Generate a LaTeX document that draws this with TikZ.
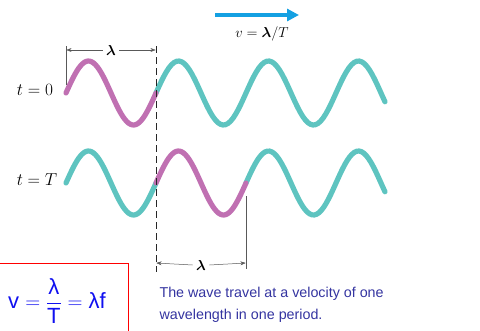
\documentclass[tikz,border=0pt]{standalone}
\usepackage{amsmath}
\usepackage{fontspec}
\usetikzlibrary{arrows.meta}
\newfontfamily\arialfont{Liberation Sans}
\definecolor{WaveTeal}{RGB}{94, 196, 192}
\definecolor{WavePink}{RGB}{192, 112, 178}
\definecolor{SpeedBlue}{RGB}{20, 160, 226}
\definecolor{NoteBlue}{RGB}{52, 52, 160}
\definecolor{EqBlue}{RGB}{16, 16, 240}

\begin{document}
\begin{tikzpicture}[x=1pt, y=-1pt, >=Stealth,
    wave/.style={line width=5.2pt, line cap=round, WaveTeal},
    hump/.style={wave, WavePink},
    dimline/.style={gray!70!black, line width=0.5pt, ->, shorten >=0.3pt},
    tick/.style={gray!70!black, line width=0.6pt},
    lbl/.style={font=\fontsize{17}{20}\selectfont}]
  \useasboundingbox (0,0) rectangle (480,330);

  % the two snapshots of the wave
  \draw[wave] plot[domain=156:385, samples=90] (\x, {93-32*sin(4*(\x-66))});
  \draw[hump] plot[domain=66:156, samples=50] (\x, {93-32*sin(4*(\x-66))});
  \draw[wave] plot[domain=66:156, samples=50] (\x, {183-32*sin(4*(\x-66))});
  \draw[wave] plot[domain=246:385, samples=60] (\x, {183-32*sin(4*(\x-66))});
  \draw[hump] plot[domain=156:246, samples=50] (\x, {183-32*sin(4*(\x-66))});

  % guide lines
  \coordinate (dashTop) at (156,46);
  \coordinate (dashBot) at (156,272);
  \draw[gray!30!black, line width=1pt, dash pattern=on 7pt off 4pt] (dashTop) -- (dashBot);
  \coordinate (tickLtop) at (66,46);
  \coordinate (tickLbot) at (66,85);
  \draw[tick] (tickLtop) -- (tickLbot);
  \coordinate (tickRtop) at (246,196);
  \coordinate (tickRbot) at (246,269);
  \draw[tick] (tickRtop) -- (tickRbot);

  % wavelength markers
  \node[font=\fontsize{15}{18}\selectfont] (lamTop) at (111,50) {$\boldsymbol{\lambda}$};
  \coordinate (lamTopL) at (66,50);
  \coordinate (lamTopR) at (156,50);
  \draw[dimline] (lamTop.west) -- (lamTopL);
  \draw[dimline] (lamTop.east) -- (lamTopR);
  \node[font=\fontsize{15}{18}\selectfont] (lamBot) at (201,265) {$\boldsymbol{\lambda}$};
  \coordinate (lamBotL) at (156,263);
  \coordinate (lamBotR) at (246,263);
  \draw[dimline] (lamBot.west) -- (lamBotL);
  \draw[dimline] (lamBot.east) -- (lamBotR);

  % time labels
  \node[lbl] (tZero) at (35,90) {$t=0$};
  \node[lbl] (tPer) at (37,180) {$t=T$};

  % propagation
  \coordinate (speedA) at (215,15);
  \coordinate (speedB) at (299,15);
  \draw[SpeedBlue, line width=4pt, -{Triangle[length=12pt, width=12pt]}] (speedA) -- (speedB);
  \node[font=\fontsize{14}{17}\selectfont] (speed) at (262,34) {$v=\boldsymbol{\lambda}/T$};

  % relation and note
  \node[draw=red, line width=0.8pt, minimum width=131pt, minimum height=72pt] (eqBox) at (63,299) {};
  \node[EqBlue, font=\arialfont\fontsize{22}{25}\selectfont] (eq) at (57,301)
    {v $=\dfrac{\text{λ}}{\text{T}}=$ λf};
  \node[NoteBlue, anchor=north west, align=left, font=\arialfont\fontsize{14.3}{22}\selectfont]
    (note) at (156,284) {The wave travel at a velocity of one\\wavelength in one period.};
\end{tikzpicture}
\end{document}
